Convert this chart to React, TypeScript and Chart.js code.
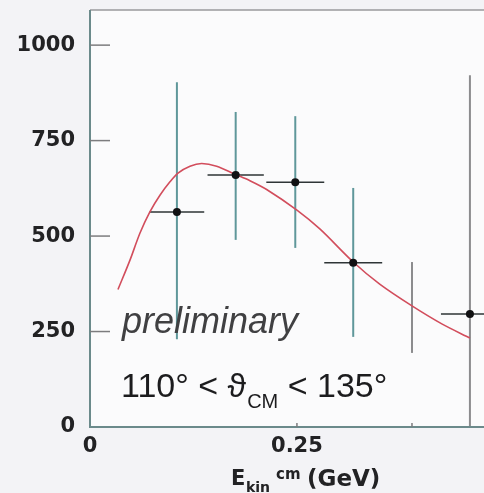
import React, { useEffect, useRef } from 'react';
import { Chart, registerables } from 'chart.js';

Chart.register(...registerables);

// Measured points (E_kin^cm in GeV, counts)
const pointX = [0.105, 0.176, 0.248, 0.318, 0.389, 0.459];
const pointY = [563, 660, 641, 430, 316, 296];
const showMarker = [true, true, true, true, false, true];
const errLow = [230, 490, 469, 236, 194, -60];
const errHigh = [903, 825, 814, 626, 432, 921];
const xErr = [0.033, 0.034, 0.035, 0.035, 0, 0.035];
const barTone = ['teal', 'teal', 'teal', 'teal', 'gray', 'gray'];

// Model curve
const curveX = [0.0338, 0.0483, 0.0604, 0.0725, 0.0845, 0.0966, 0.1063, 0.1208, 0.1349, 0.153, 0.1751, 0.1932, 0.2134, 0.25, 0.278, 0.318, 0.35, 0.389, 0.425, 0.459];
const curveY = [360, 437, 508, 564, 607, 642, 665, 683, 690, 683, 662, 645, 622, 568, 518, 432, 374, 317, 270, 233];

const yTickValues = [0, 250, 500, 750, 1000];
const xTickValues = [0, 0.25, 0.389];
const xTickLabels = ['0', '0.25', ''];

const decorPlugin = {
  id: 'decor',
  beforeDraw(chart: any) {
    const { ctx, chartArea: a, width, height } = chart;
    ctx.save();
    ctx.fillStyle = '#f3f3f6';
    ctx.fillRect(0, 0, width, height);
    ctx.fillStyle = '#fbfbfc';
    ctx.fillRect(a.left, a.top, a.right - a.left, a.bottom - a.top);
    ctx.restore();
  },
  beforeDatasetsDraw(chart: any) {
    const { ctx, chartArea: a } = chart;
    const xs = chart.scales.x;
    const ys = chart.scales.y;
    ctx.save();
    ctx.beginPath();
    ctx.rect(a.left, a.top, a.right - a.left, a.bottom - a.top);
    ctx.clip();
    for (let i = 0; i < pointX.length; i++) {
      const px = xs.getPixelForValue(pointX[i]);
      const py = ys.getPixelForValue(pointY[i]);
      ctx.strokeStyle = barTone[i] === 'teal' ? '#5f979a' : '#8c8c8e';
      ctx.lineWidth = 2;
      ctx.beginPath();
      ctx.moveTo(px, ys.getPixelForValue(errLow[i]));
      ctx.lineTo(px, ys.getPixelForValue(errHigh[i]));
      ctx.stroke();
      if (xErr[i] > 0) {
        ctx.strokeStyle = '#2e3536';
        ctx.lineWidth = 1.5;
        ctx.beginPath();
        ctx.moveTo(xs.getPixelForValue(pointX[i] - xErr[i]), py);
        ctx.lineTo(xs.getPixelForValue(pointX[i] + xErr[i]), py);
        ctx.stroke();
      }
    }
    ctx.restore();
  },
  afterDatasetsDraw(chart: any) {
    const { ctx, chartArea: a } = chart;
    const xs = chart.scales.x;
    const ys = chart.scales.y;
    ctx.save();
    // top border
    ctx.strokeStyle = '#9a9a9c';
    ctx.lineWidth = 1.5;
    ctx.beginPath();
    ctx.moveTo(a.left, a.top);
    ctx.lineTo(a.right, a.top);
    ctx.stroke();
    // left & bottom axes
    ctx.strokeStyle = '#6b8a8b';
    ctx.lineWidth = 2;
    ctx.beginPath();
    ctx.moveTo(a.left, a.top);
    ctx.lineTo(a.left, a.bottom);
    ctx.lineTo(a.right, a.bottom);
    ctx.stroke();
    // inward ticks
    ctx.strokeStyle = '#7c7c7e';
    ctx.lineWidth = 1.5;
    yTickValues.forEach((v) => {
      if (v === 0) return;
      const y = ys.getPixelForValue(v);
      ctx.beginPath();
      ctx.moveTo(a.left, y);
      ctx.lineTo(a.left + 20, y);
      ctx.stroke();
    });
    xTickValues.forEach((v) => {
      if (v === 0) return;
      const x = xs.getPixelForValue(v);
      ctx.beginPath();
      ctx.moveTo(x, a.bottom);
      ctx.lineTo(x, a.bottom - 4);
      ctx.stroke();
    });

    // annotations
    ctx.textBaseline = 'alphabetic';
    ctx.textAlign = 'left';
    ctx.fillStyle = '#404042';
    ctx.font = "italic 36px 'Liberation Sans', Arial, sans-serif";
    ctx.fillText('preliminary', 122, 333);

    ctx.fillStyle = '#1c1c1e';
    let x = 121;
    const big = "34px 'Liberation Sans', Arial, 'DejaVu Sans', sans-serif";
    const small = "20px 'Liberation Sans', Arial, sans-serif";
    ctx.font = big;
    const part1 = '110° < ϑ';
    ctx.fillText(part1, x, 397);
    x += ctx.measureText(part1).width;
    ctx.font = small;
    ctx.fillText('CM', x + 1, 408);
    x += ctx.measureText('CM').width + 1;
    ctx.font = big;
    ctx.fillText(' < 135°', x, 397);

    // x-axis title: E_kin^cm (GeV)
    ctx.fillStyle = '#222224';
    ctx.font = "bold 21px 'DejaVu Sans', Arial, sans-serif";
    ctx.fillText('E', 231, 485);
    ctx.font = "bold 14px 'DejaVu Sans', Arial, sans-serif";
    ctx.fillText('kin', 246, 492);
    ctx.font = "bold 15px 'DejaVu Sans', Arial, sans-serif";
    ctx.fillText('cm', 276, 479);
    ctx.font = "bold 23px 'DejaVu Sans', Arial, sans-serif";
    ctx.fillText('(GeV)', 307, 486);
    ctx.restore();
  },
};

export default function App() {
  const canvasRef = useRef<HTMLCanvasElement | null>(null);

  useEffect(() => {
    const canvas = canvasRef.current;
    if (!canvas) return;
    const chart = new Chart(canvas, {
      type: 'scatter',
      data: {
        datasets: [
          {
            type: 'scatter',
            data: pointX.map((x, i) => ({ x, y: pointY[i] })),
            pointRadius: showMarker.map((s) => (s ? 4 : 0)),
            pointBackgroundColor: '#111113',
            pointBorderWidth: 0,
          } as any,
          {
            type: 'line',
            data: curveX.map((x, i) => ({ x, y: curveY[i] })),
            borderColor: '#d24d5c',
            borderWidth: 1.6,
            pointRadius: 0,
            tension: 0.3,
            fill: false,
          } as any,
        ],
      },
      options: {
        responsive: false,
        animation: false,
        devicePixelRatio: 1,
        layout: { autoPadding: false, padding: { top: 10, left: 0, right: 0, bottom: 0 } },
        plugins: { legend: { display: false }, tooltip: { enabled: false } },
        scales: {
          x: {
            type: 'linear',
            min: 0,
            max: 0.476,
            grid: { display: false, drawTicks: false },
            border: { display: false },
            afterBuildTicks: (s: any) => {
              s.ticks = xTickValues.map((v) => ({ value: v }));
            },
            afterFit: (s: any) => {
              s.height = 66;
              s.paddingLeft = 0;
              s.paddingRight = 0;
            },
            ticks: {
              autoSkip: false,
              maxRotation: 0,
              padding: 7,
              color: '#222224',
              font: { family: "'DejaVu Sans', Arial, sans-serif", size: 21, weight: 'bold' },
              callback: (_v: any, i: number) => xTickLabels[i],
            },
          },
          y: {
            type: 'linear',
            min: 0,
            max: 1092,
            grid: { display: false, drawTicks: false },
            border: { display: false },
            afterBuildTicks: (s: any) => {
              s.ticks = yTickValues.map((v) => ({ value: v }));
            },
            afterFit: (s: any) => {
              s.width = 90;
              s.paddingTop = 0;
              s.paddingBottom = 0;
            },
            ticks: {
              padding: 15,
              color: '#222224',
              font: { family: "'DejaVu Sans', Arial, sans-serif", size: 21, weight: 'bold' },
              callback: (v: any) => String(v),
            },
          },
        },
      } as any,
      plugins: [decorPlugin as any],
    });
    return () => chart.destroy();
  }, []);

  return (
    <div style={{ position: 'absolute', left: 0, top: 0, width: 484, height: 493, background: '#f3f3f6' }}>
      <canvas ref={canvasRef} width={484} height={493} style={{ display: 'block' }} />
    </div>
  );
}
